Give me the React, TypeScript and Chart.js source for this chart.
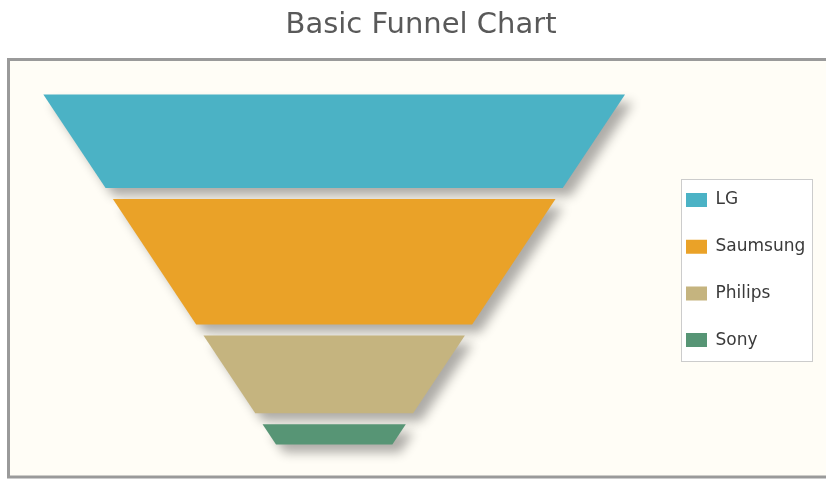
import { useEffect, useRef } from 'react';
import { Chart, registerables } from 'chart.js';

Chart.register(...registerables);

// ---- data ----
const categories = ['LG', 'Saumsung', 'Philips', 'Sony'];
const values = [43.4, 39.9, 14.3, 2.4];
const colors = ['#4bb2c5', '#EAA228', '#c5b47f', '#579575'];
const chartTitle = 'Basic Funnel Chart';

// funnel shape settings (units: % of top width / % of funnel height)
const WIDTH_RATIO = 0.2;
const SECTION_GAP = 3.14;

type Pt = { x: number; y: number };

// Build each funnel section as a closed polygon in data units.
function funnelSections(vals: number[]): Pt[][] {
  const n = vals.length;
  const total = vals.reduce((a, b) => a + b, 0);
  const H = 100;
  const k = 1 - WIDTH_RATIO;
  const half = (y: number) => 50 * (1 - (k * y) / H);
  const compressedH = H - SECTION_GAP * (n - 1);
  const fullArea = (1 + WIDTH_RATIO) / 2;
  let t = 0;
  let yTop = 0;
  const out: Pt[][] = [];
  for (let i = 0; i < n; i++) {
    const a = (vals[i] / total) * fullArea;
    const w0 = 1 - k * t;
    const d = (w0 - Math.sqrt(Math.max(0, w0 * w0 - 2 * k * a))) / k;
    const h = d * compressedH;
    const y0 = yTop;
    const y1 = yTop + h;
    out.push([
      { x: -half(y0), y: y0 },
      { x: half(y0), y: y0 },
      { x: half(y1), y: y1 },
      { x: -half(y1), y: y1 },
      { x: -half(y0), y: y0 },
    ]);
    yTop = y1 + SECTION_GAP;
    t += d;
  }
  return out;
}

const gridPlugin = {
  id: 'gridFrame',
  beforeDraw(chart: any) {
    const c = chart.ctx;
    c.save();
    c.fillStyle = '#fffdf6';
    c.fillRect(9, 60, 830, 417);
    c.strokeStyle = '#9a9a9a';
    c.lineWidth = 3;
    c.strokeRect(8.5, 59.5, 830, 417.5);
    // legend frame
    c.fillStyle = '#ffffff';
    c.fillRect(681.5, 179.5, 131, 182);
    c.strokeStyle = '#cccccc';
    c.lineWidth = 1;
    c.strokeRect(681.5, 179.5, 131, 182);
    c.restore();
  },
  afterLayout(chart: any) {
    const lg = chart.legend;
    if (!lg) return;
    const pad = 29.7;
    lg.left = 686 - pad;
    lg.top = 191.5 - pad;
    lg.right = 826;
    lg.bottom = 420;
    lg.width = lg.right - lg.left;
    lg.height = lg.bottom - lg.top;
  },
  beforeDatasetsDraw(chart: any) {
    const c = chart.ctx;
    c.save();
    c.shadowColor = 'rgba(0,0,0,0.32)';
    c.shadowBlur = 11;
    c.shadowOffsetX = 8;
    c.shadowOffsetY = 8;
  },
  afterDatasetsDraw(chart: any) {
    chart.ctx.restore();
  },
};

export default function App() {
  const ref = useRef<HTMLCanvasElement | null>(null);
  useEffect(() => {
    if (!ref.current) return;
    const sections = funnelSections(values);
    const chart = new Chart(ref.current, {
      type: 'line',
      data: {
        datasets: categories.map((label, i) => ({
          label,
          data: sections[i],
          backgroundColor: colors[i],
          borderColor: colors[i],
          borderWidth: 0,
          pointRadius: 0,
          pointHoverRadius: 0,
          tension: 0,
          fill: 'shape',
          order: categories.length - 1 - i,
        })),
      },
      options: {
        animation: false,
        responsive: false,
        events: [],
        layout: { padding: { left: 16, right: 0, top: 0, bottom: 3 } },
        scales: {
          x: { type: 'linear', display: false, min: -54.7, max: 84.55 },
          y: { type: 'linear', display: false, reverse: true, min: -9.571, max: 109 },
        },
        plugins: {
          title: {
            display: true,
            text: chartTitle,
            color: '#595959',
            font: { family: 'DejaVu Sans', size: 29, weight: 'normal' },
            padding: { top: 8.5, bottom: 17.7 },
          },
          legend: {
            display: true,
            position: 'chartArea',
            align: 'start',
            labels: {
              boxWidth: 21,
              boxHeight: 14,
              padding: 29.7,
              color: '#3a3a3a',
              font: { family: 'DejaVu Sans', size: 17 },
              sort: (a: any, b: any) => a.datasetIndex - b.datasetIndex,
            },
          },
          tooltip: { enabled: false },
        },
      } as any,
      plugins: [gridPlugin],
    });
    return () => chart.destroy();
  }, []);
  return (
    <div style={{ position: 'absolute', left: 0, top: 0, width: 826, height: 479, background: '#ffffff' }}>
      <canvas ref={ref} width={826} height={479} style={{ display: 'block' }} />
    </div>
  );
}
